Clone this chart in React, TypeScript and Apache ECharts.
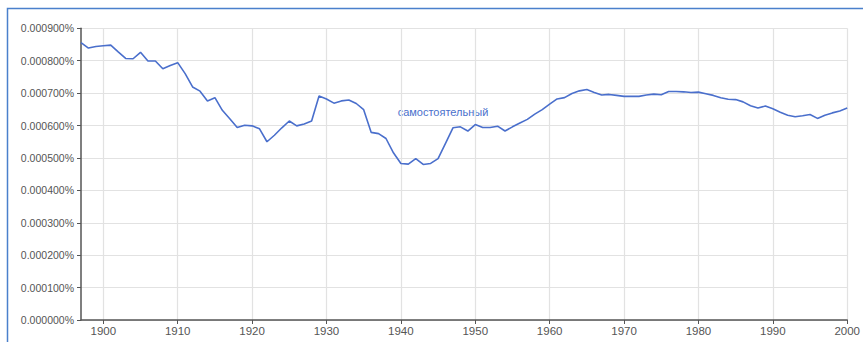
import React, { useEffect, useRef } from "react";
import * as echarts from "echarts";

const years: number[] = [];
for (let y = 1897; y <= 2000; y++) years.push(y);

// values in units of 0.0001 %
const valuesE4: number[] = [
  8.56, 8.39, 8.44, 8.46, 8.48, 8.27, 8.07, 8.06, 8.26, 7.99, // 1897-1906
  7.99, 7.75, 7.85, 7.94, 7.6, 7.19, 7.06, 6.76, 6.86, 6.47, // 1907-1916
  6.21, 5.94, 6.01, 5.99, 5.9, 5.5, 5.7, 5.93, 6.14, 5.99, // 1917-1926
  6.05, 6.14, 6.91, 6.82, 6.69, 6.76, 6.79, 6.68, 6.49, 5.79, // 1927-1936
  5.75, 5.6, 5.16, 4.83, 4.81, 4.98, 4.8, 4.83, 4.98, 5.45, // 1937-1946
  5.93, 5.96, 5.83, 6.03, 5.94, 5.94, 5.98, 5.83, 5.96, 6.08, // 1947-1956
  6.19, 6.35, 6.49, 6.66, 6.82, 6.86, 6.99, 7.07, 7.11, 7.02, // 1957-1966
  6.94, 6.96, 6.93, 6.9, 6.9, 6.9, 6.94, 6.97, 6.95, 7.05, // 1967-1976
  7.05, 7.04, 7.02, 7.03, 6.98, 6.93, 6.86, 6.81, 6.8, 6.73, // 1977-1986
  6.61, 6.54, 6.6, 6.52, 6.41, 6.32, 6.27, 6.3, 6.34, 6.22, // 1987-1996
  6.32, 6.39, 6.45, 6.54, // 1997-2000
];

const xTickYears: number[] = [1900, 1910, 1920, 1930, 1940, 1950, 1960, 1970, 1980, 1990, 2000];

const seriesName = "самостоятельный";
const yMin = 0;
const yMax = 0.0009;
const yInterval = 0.0001;
const xMin = 1897;
const xMax = 2000;

export default function App() {
  const ref = useRef<HTMLDivElement>(null);
  useEffect(() => {
    if (!ref.current) return;
    const chart = echarts.init(ref.current, undefined, { renderer: "svg" });
    const data = years.map((y, i) => [y, valuesE4[i] / 10000]);
    chart.setOption({
      animation: false,
      backgroundColor: "#ffffff",
      grid: { left: 81, right: 12, top: 28.3, bottom: 22 },
      xAxis: {
        type: "value",
        min: xMin,
        max: xMax,
        axisLine: { show: true, lineStyle: { color: "#555", width: 1.5 } },
        axisTick: {
          show: true,
          length: 4,
          customValues: xTickYears,
          lineStyle: { color: "#555" },
        },
        axisLabel: {
          customValues: xTickYears,
          color: "#555",
          fontSize: 11.5,
          fontFamily: "Liberation Sans, Arial, sans-serif",
          margin: 5,
          formatter: (v: number) => String(v),
        },
        splitLine: { show: true, lineStyle: { color: "#e2e2e2", width: 1.2 } },
      },
      yAxis: {
        type: "value",
        min: yMin,
        max: yMax,
        interval: yInterval,
        axisLine: { show: true, lineStyle: { color: "#555", width: 1.5 } },
        axisTick: { show: true, length: 4, lineStyle: { color: "#555" } },
        axisLabel: {
          color: "#555",
          fontSize: 10.5,
          fontFamily: "Liberation Sans, Arial, sans-serif",
          margin: 7,
          formatter: (v: number) => v.toFixed(6) + "%",
        },
        splitLine: { show: true, lineStyle: { color: "#e2e2e2", width: 1.2 } },
      },
      series: [
        {
          name: seriesName,
          type: "line",
          data,
          showSymbol: false,
          symbol: "none",
          lineStyle: { color: "#4a6fcc", width: 1.6 },
        },
      ],
      graphic: [
        {
          type: "rect",
          shape: { x: 7.5, y: 8.5, width: 1000, height: 500 },
          style: { fill: "none", stroke: "#4a80cc", lineWidth: 1.5 },
          silent: true,
        },
        {
          type: "text",
          x: 443,
          y: 111.5,
          style: {
            text: seriesName,
            fill: "#4a70cc",
            fontSize: 11,
            fontFamily: "Liberation Sans, Arial, sans-serif",
            align: "center",
            verticalAlign: "middle",
          },
        },
      ],
    });
    return () => chart.dispose();
  }, []);
  return (
    <div
      ref={ref}
      style={{ position: "fixed", left: 0, top: 0, width: 863, height: 342 }}
    />
  );
}
